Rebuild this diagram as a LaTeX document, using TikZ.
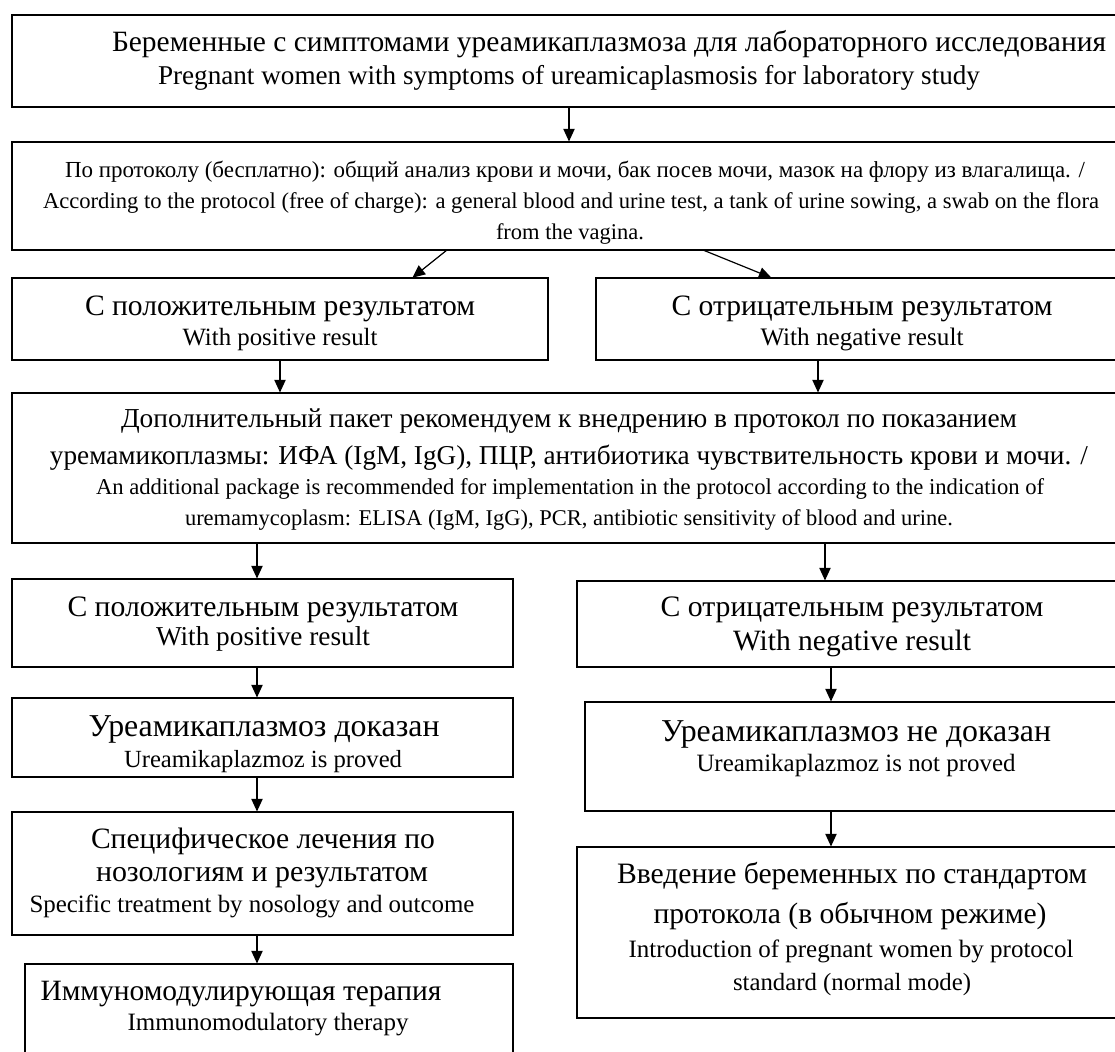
\documentclass[tikz,border=0pt]{standalone}
\usepackage{fontspec}
\setmainfont{Liberation Serif}
\usetikzlibrary{arrows.meta}
\newbox\FitBox
\newlength\FitTmp
\newcommand\FitLine[2]{\setbox\FitBox=\hbox{\fontsize{10pt}{12pt}\selectfont #2}\FitTmp=\wd\FitBox\pgfmathsetmacro\FitSz{10*#1*0.75/\FitTmp}\fontsize{\FitSz pt}{\FitSz pt}\selectfont\rule[-0.2em]{0pt}{0.9em}#2}
\newcommand\MkBox[5]{\node[flowbox, minimum width={(#4-#2)*0.75pt}, minimum height={(#5-#3)*0.75pt}] (#1) at ({(#2+#4)/2},{(#3+#5)/2}) {};}
\tikzset{
  flowbox/.style={draw=black, line width=1.4pt, rectangle, inner sep=0pt, outer sep=0pt, fill=white},
  txt/.style={inner sep=0pt, outer sep=0pt, anchor=center},
  arr/.style={draw=black, line width=0.9pt, -{Triangle[length=9.5pt,width=8.5pt]}, shorten >=0.4pt}
}
\begin{document}
\begin{tikzpicture}[x=0.75pt,y=-0.75pt]
\useasboundingbox (0,0) rectangle (1115,1051);
\fill[white] (0,0) rectangle (1115,1051);
% boxes
\MkBox{top}{12}{15}{1128}{107}
\MkBox{proto}{12}{142}{1128}{250}
\MkBox{pos1}{12}{278}{548}{360}
\MkBox{neg1}{596}{278}{1128}{360}
\MkBox{add}{12}{393}{1128}{543}
\MkBox{pos2}{12}{579}{513}{667}
\MkBox{neg2}{577}{581}{1128}{667}
\MkBox{proved}{12}{698}{513}{777}
\MkBox{notproved}{585}{702}{1128}{811}
\MkBox{specific}{12}{812}{513}{935}
\MkBox{standard}{577}{847}{1128}{1018}
\MkBox{immuno}{25}{964}{513}{1070}
% texts
\node[txt] (t1a) at (609,44) {\FitLine{994}{Беременные с симптомами уреамикаплазмоза для лабораторного исследования}};
\node[txt] (t1b) at (569,78) {\FitLine{822}{Pregnant women with symptoms of ureamicaplasmosis for laboratory study}};
\node[txt] (t2a) at (575,172) {\FitLine{1020}{По протоколу (бесплатно): общий анализ крови и мочи, бак посев мочи, мазок на флору из влагалища. /}};
\node[txt] (t2b) at (571,203) {\FitLine{1056}{According to the protocol (free of charge): a general blood and urine test, a tank of urine sowing, a swab on the flora}};
\node[txt] (t2c) at (570,234) {\FitLine{148}{from the vagina.}};
\node[txt] (t3a) at (280,308) {\FitLine{390}{С положительным результатом}};
\node[txt] (t3b) at (280,339) {\FitLine{195}{With positive result}};
\node[txt] (t4a) at (862,308) {\FitLine{381}{С отрицательным результатом}};
\node[txt] (t4b) at (862,339) {\FitLine{203}{With negative result}};
\node[txt] (t5a) at (569,421) {\FitLine{896}{Дополнительный пакет рекомендуем к внедрению в протокол по показанием}};
\node[txt] (t5b) at (569,458) {\FitLine{1038}{уремамикоплазмы: ИФА (IgM, IgG), ПЦР, антибиотика чувствительность крови и мочи. /}};
\node[txt] (t5c) at (570,489) {\FitLine{948}{An additional package is recommended for implementation in the protocol according to the indication of}};
\node[txt] (t5d) at (569,520) {\FitLine{768}{uremamycoplasm: ELISA (IgM, IgG), PCR, antibiotic sensitivity of blood and urine.}};
\node[txt] (t6a) at (263,609) {\FitLine{391}{С положительным результатом}};
\node[txt] (t6b) at (263,639) {\FitLine{214}{With positive result}};
\node[txt] (t7a) at (852,609) {\FitLine{383}{С отрицательным результатом}};
\node[txt] (t7b) at (852,643) {\FitLine{238}{With negative result}};
\node[txt] (t8a) at (264,729) {\FitLine{351}{Уреамикаплазмоз доказан}};
\node[txt] (t8b) at (263,761) {\FitLine{278}{Ureamikaplazmoz is proved}};
\node[txt] (t9a) at (856,734) {\FitLine{390}{Уреамикаплазмоз не доказан}};
\node[txt] (t9b) at (856,765) {\FitLine{319}{Ureamikaplazmoz is not proved}};
\node[txt] (t10a) at (263,841) {\FitLine{344}{Специфическое лечения по}};
\node[txt] (t10b) at (262,874) {\FitLine{332}{нозологиям и результатом}};
\node[txt] (t10c) at (252,906) {\FitLine{445}{Specific treatment by nosology and outcome}};
\node[txt] (t11a) at (852,876) {\FitLine{470}{Введение беременных по стандартом}};
\node[txt] (t11b) at (850,916) {\FitLine{393}{протокола (в обычном режиме)}};
\node[txt] (t11c) at (851,951) {\FitLine{445}{Introduction of pregnant women by protocol}};
\node[txt] (t11d) at (852,984) {\FitLine{238}{standard (normal mode)}};
\node[txt] (t12a) at (241,993) {\FitLine{401}{Иммуномодулирующая терапия}};
\node[txt] (t12b) at (268,1024) {\FitLine{281}{Immunomodulatory therapy}};
% x positions of connectors
\coordinate (xa) at (569,0);
\coordinate (xb1) at (447,0);
\coordinate (xb2) at (412,0);
\coordinate (xc1) at (703,0);
\coordinate (xc2) at (772,0);
\coordinate (xd) at (280,0);
\coordinate (xe) at (818,0);
\coordinate (xf) at (257,0);
\coordinate (xg) at (825,0);
\coordinate (xh) at (831,0);
% connectors
\draw[arr] (top.south -| xa) -- (proto.north -| xa);
\draw[arr] (proto.south -| xb1) -- (pos1.north -| xb2);
\draw[arr] (proto.south -| xc1) -- (neg1.north -| xc2);
\draw[arr] (pos1.south -| xd) -- (add.north -| xd);
\draw[arr] (neg1.south -| xe) -- (add.north -| xe);
\draw[arr] (add.south -| xf) -- (pos2.north -| xf);
\draw[arr] (add.south -| xg) -- (neg2.north -| xg);
\draw[arr] (pos2.south -| xf) -- (proved.north -| xf);
\draw[arr] (neg2.south -| xh) -- (notproved.north -| xh);
\draw[arr] (proved.south -| xf) -- (specific.north -| xf);
\draw[arr] (notproved.south -| xh) -- (standard.north -| xh);
\draw[arr] (specific.south -| xf) -- (immuno.north -| xf);
\end{tikzpicture}
\end{document}
